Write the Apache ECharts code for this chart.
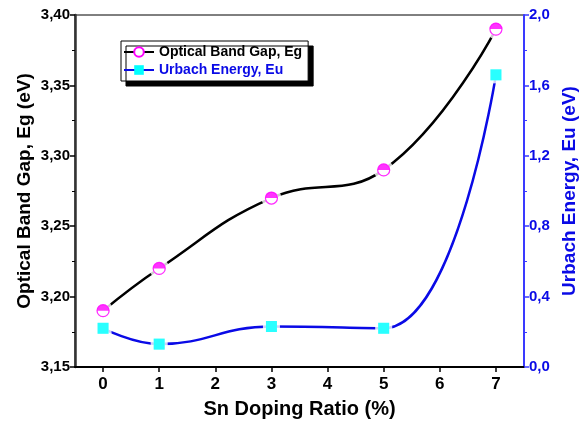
<!DOCTYPE html>
<html>
<head>
<meta charset="utf-8">
<script src="https://cdn.jsdelivr.net/npm/echarts@6/dist/echarts.min.js"></script>
<style>
html, body { margin: 0; padding: 0; background: #fff; }
#chart { width: 587px; height: 421px; }
</style>
</head>
<body>
<div id="chart"></div>
<script>
// Sn doping ratio (%)
var doping = [0, 1, 3, 5, 7];
// optical band gap Eg (eV), left axis
var bandGap = [3.19, 3.22, 3.27, 3.29, 3.39];
// urbach energy Eu (eV), right axis
var urbach = [0.22, 0.13, 0.23, 0.22, 1.66];
// x tick labels
var xTicks = [0, 1, 2, 3, 4, 5, 6, 7];

var egName = 'Optical Band Gap, Eg';
var euName = 'Urbach Energy, Eu';
var blue = '#0a0ae6';
var font = 'Liberation Sans';

var pairs = function (xs, ys) {
    var res = [];
    for (var i = 0; i < xs.length; i++) {
        res.push([xs[i], ys[i]]);
    }
    return res;
};
var fmtComma = function (digits) {
    return function (v) { return v.toFixed(digits).replace('.', ','); };
};

var chart = echarts.init(document.getElementById('chart'));
var option = {
    animation: false,
    grid: {
        left: 75, right: 63, top: 15, bottom: 54,
        containLabel: false, outerBoundsMode: 'none',
        show: true, borderColor: '#000', borderWidth: 1
    },
    legend: {
        data: [
            { name: egName, textStyle: { color: '#000' } },
            { name: euName, textStyle: { color: blue } }
        ],
        orient: 'vertical',
        left: 121,
        top: 41,
        itemWidth: 30,
        itemHeight: 12,
        itemGap: 4,
        padding: [4, 6, 4, 2],
        backgroundColor: '#fff',
        borderColor: '#000',
        borderWidth: 1,
        shadowColor: '#000',
        shadowOffsetX: 5,
        shadowOffsetY: 5,
        shadowBlur: 0,
        textStyle: { fontFamily: font, fontWeight: 'bold', fontSize: 14, color: '#000' }
    },
    xAxis: {
        type: 'value',
        min: -0.5,
        max: 7.5,
        splitLine: { show: false },
        axisLine: { onZero: false, lineStyle: { color: '#000', width: 2 } },
        axisTick: { length: 5, customValues: xTicks, lineStyle: { color: '#000', width: 1.5 } },
        axisLabel: {
            fontFamily: font, fontWeight: 'bold', fontSize: 17, color: '#000', margin: 9,
            customValues: xTicks
        },
        name: 'Sn Doping Ratio (%)',
        nameLocation: 'middle',
        nameGap: 32,
        nameTextStyle: { fontFamily: font, fontWeight: 'bold', fontSize: 20, color: '#000' }
    },
    yAxis: [
        {
            type: 'value',
            min: 3.15,
            max: 3.40,
            interval: 0.05,
            position: 'left',
            splitLine: { show: false },
            axisLine: { show: true, onZero: false, lineStyle: { color: '#333', width: 2.5 } },
            axisTick: { length: 5, lineStyle: { color: '#000', width: 1.5 } },
            minorTick: { show: true, splitNumber: 2, length: 3, lineStyle: { color: '#000' } },
            axisLabel: {
                fontFamily: font, fontWeight: 'bold', fontSize: 15, color: '#000', margin: 5,
                formatter: fmtComma(2)
            },
            name: 'Optical Band Gap, Eg (eV)',
            nameLocation: 'middle',
            nameGap: 41,
            nameMoveOverlap: false,
            nameTextStyle: { fontFamily: font, fontWeight: 'bold', fontSize: 19, color: '#000' }
        },
        {
            type: 'value',
            min: 0,
            max: 2,
            interval: 0.4,
            position: 'right',
            splitLine: { show: false },
            axisLine: { show: true, onZero: false, lineStyle: { color: '#3a3aff', width: 2 } },
            axisTick: { length: 5, lineStyle: { color: '#3a3aff', width: 1.5 } },
            minorTick: { show: true, splitNumber: 2, length: 3, lineStyle: { color: '#3a3aff' } },
            axisLabel: {
                fontFamily: font, fontWeight: 'bold', fontSize: 15, color: blue, margin: 5,
                formatter: fmtComma(1)
            },
            name: 'Urbach Energy, Eu (eV)',
            nameLocation: 'middle',
            nameGap: 35,
            nameRotate: 90,
            nameTextStyle: { fontFamily: font, fontWeight: 'bold', fontSize: 19, color: blue }
        }
    ],
    series: [
        {
            name: egName,
            type: 'line',
            yAxisIndex: 0,
            data: pairs(doping, bandGap),
            smooth: 0.45,
            symbol: 'circle',
            symbolSize: 12,
            lineStyle: { color: '#000', width: 2.5 },
            itemStyle: { color: '#fff', borderColor: '#ff00ff', borderWidth: 1.2 },
            z: 2
        },
        {
            name: euName,
            type: 'line',
            yAxisIndex: 1,
            data: pairs(doping, urbach),
            smooth: 0.45,
            symbol: 'rect',
            symbolSize: 11,
            lineStyle: { color: blue, width: 2.5 },
            itemStyle: { color: '#00ffff', borderWidth: 0 },
            z: 2
        },
        // white halos so the curves stop short of the markers
        {
            name: 'egGap',
            type: 'scatter',
            yAxisIndex: 0,
            data: pairs(doping, bandGap),
            symbol: 'circle',
            symbolSize: 20,
            itemStyle: { color: '#fff' },
            silent: true,
            z: 3
        },
        {
            name: 'euGap',
            type: 'scatter',
            yAxisIndex: 1,
            data: pairs(doping, urbach),
            symbol: 'rect',
            symbolSize: 17,
            itemStyle: { color: '#fff' },
            silent: true,
            z: 3
        },
        // markers on top
        {
            name: 'egMark',
            type: 'scatter',
            yAxisIndex: 0,
            data: pairs(doping, bandGap),
            symbol: 'circle',
            symbolSize: 12,
            itemStyle: { color: '#fff', borderColor: '#ff00ff', borderWidth: 1.2 },
            z: 4
        },
        {
            name: 'egHalf',
            type: 'scatter',
            yAxisIndex: 0,
            data: pairs(doping, bandGap),
            symbol: 'path://M0,10 A10,10 0 0 1 20,10 Z',
            symbolKeepAspect: true,
            symbolSize: 12,
            symbolOffset: [0, -3],
            itemStyle: { color: '#ff00ff' },
            z: 5
        },
        {
            name: 'euMark',
            type: 'scatter',
            yAxisIndex: 1,
            data: pairs(doping, urbach),
            symbol: 'rect',
            symbolSize: 11,
            itemStyle: { color: '#00ffff' },
            z: 5
        }
    ]
};
option && chart.setOption(option);
</script>
</body>
</html>
